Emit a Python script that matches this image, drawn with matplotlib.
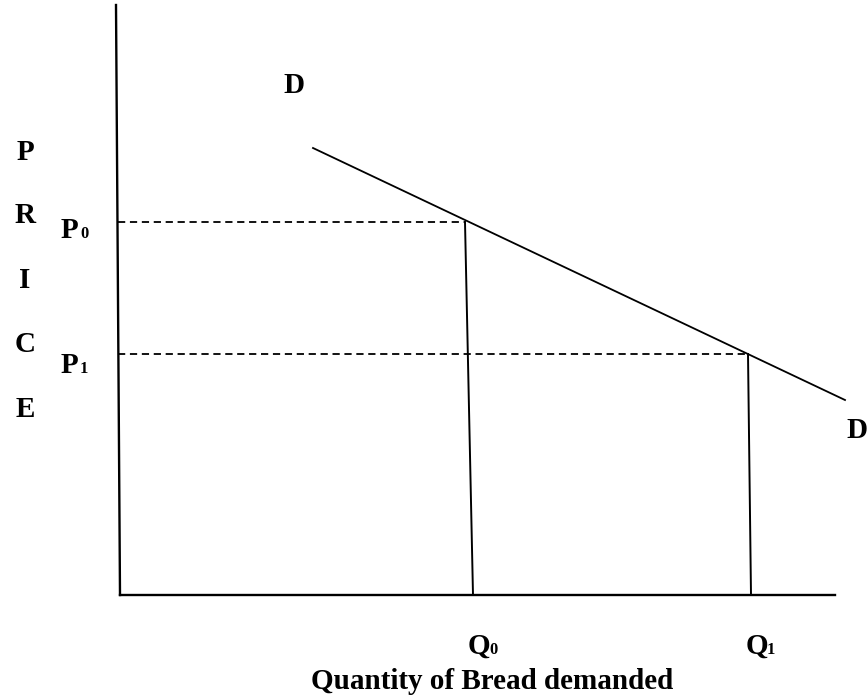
import matplotlib
matplotlib.use('Agg')
import matplotlib.pyplot as plt

plt.rcParams['font.family'] = 'Liberation Serif'

# diagram units (origin at the corner of the axes, price upward)
y_axis_x = [-4, 0]
y_axis_y = [590, 0]
x_axis_x = [0, 715]
x_axis_y = [0, 0]

demand_q = [193, 725]
demand_p = [447, 195]

price_levels = [373, 241]           # P0, P1
qty_top = [345, 628]                # where the drop lines meet the demand curve
qty_bottom = [353, 631]             # where they meet the quantity axis

price_letters = ['P', 'R', 'I', 'C', 'E']
price_letter_y = [435, 372, 307, 243, 178]
price_names = ['P', 'P']
qty_names = ['Q', 'Q']
subscripts = ['0', '1']

fig = plt.figure(figsize=(8.68, 6.98), dpi=100)
ax = fig.add_axes([0, 0, 1, 1])
ax.set_xlim(-120, 748)
ax.set_ylim(-103, 595)
ax.axis('off')

ax.plot(y_axis_x, y_axis_y, color='black', lw=1.7)
ax.plot(x_axis_x, x_axis_y, color='black', lw=1.7)
ax.plot(demand_q, demand_p, color='black', lw=1.3)

for p, qt, qb in zip(price_levels, qty_top, qty_bottom):
    ax.plot([-2, qt], [p, p], color='black', lw=1.3, ls=(0, (4.0, 2.6)))
    ax.plot([qt, qb], [p, 0], color='black', lw=1.4)

big = dict(fontsize=21, fontweight='bold', va='baseline')
small = dict(fontsize=12, fontweight='bold', va='baseline', ha='left')

ax.text(174, 502, 'D', ha='center', **big)
ax.text(737, 157, 'D', ha='center', **big)

for letter, y in zip(price_letters, price_letter_y):
    ax.text(-95, y, letter, ha='center', **big)

# P0 / P1 beside the price axis
for name, sub, p, base in zip(price_names, subscripts, price_levels, [357, 222]):
    ax.text(-59, base, name, ha='left', **big)
    ax.text(-40, base, sub, **small)

# Q0 / Q1 below the drop lines
for name, sub, qb in zip(qty_names, subscripts, qty_bottom):
    ax.text(qb - 5, -59, name, ha='left', **big)
    ax.text(qb + 16, -59, sub, **small)

ax.text(372, -94, 'Quantity of Bread demanded', ha='center', **big)

fig.savefig('out.png', dpi=100)
